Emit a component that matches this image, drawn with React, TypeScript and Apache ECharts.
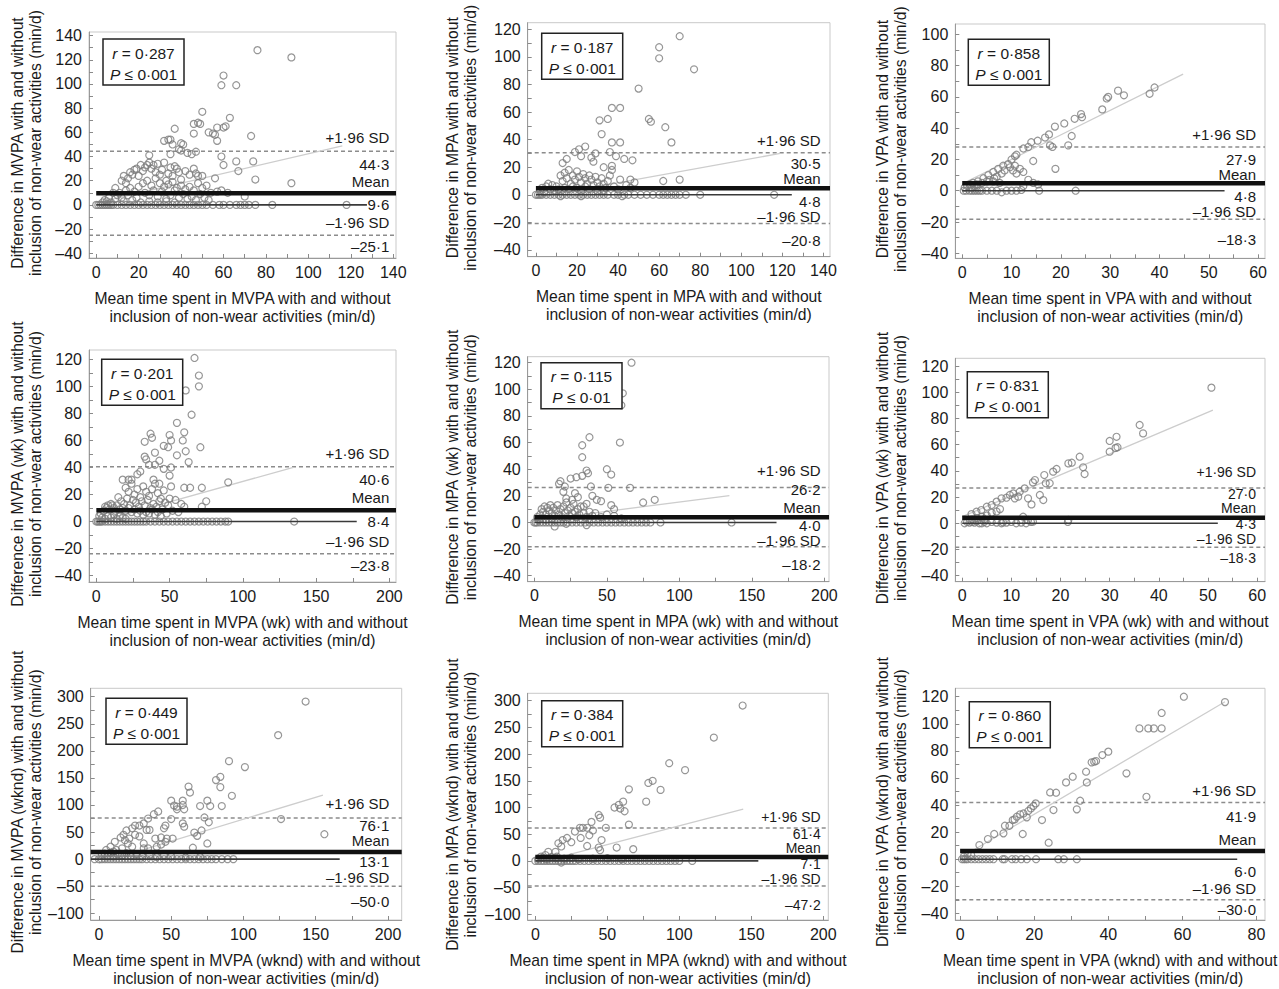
import { useEffect, useRef } from "react";
import * as echarts from "echarts";

// ---------- DATA ----------
const mvpaPoints = [
  [76,128],[92,122],[60,107],[59,99],[66,99],[50,77],[63,72],[46,67],[48,68],[49,67],[61,65],[60,64],[57,64],[37,63],[56,58],[46,59],[53,60],[55,59],[73,57],[57,53],[32,53],[34,54],[35,54],[36,50],[40,51],[41,50],[39,46],[40,45],[43,43],[45,42],[47,44],[59,40],[35,42],[25,41],[66,36],[74,36],[60,33],[67,28],[75,21],[92,18],[56,22],[50,24],
  [12,20],[13,24],[14,18],[15,22],[16,27],[17,25],[18,29],[19,30],[20,24],[21,33],[22,28],[23,31],[24,33],[25,35],[26,30],[27,33],[28,27],[29,34],[30,25],[31,29],[32,35],[33,20],[34,26],[35,31],[36,24],[37,32],[38,30],[39,27],[40,21],[42,28],[44,25],[46,30],[47,26],[48,24],
  [20,15],[22,18],[24,20],[26,16],[28,22],[30,18],[32,15],[34,17],[36,19],[38,14],[40,16],[42,13],[44,15],[46,12],[48,18],[50,14],[52,16],[54,10],[14,12],[16,14],[18,11],[10,8],[12,6],[8,10],[6,6],[4,4],[9,14],[11,10],[15,8],[19,6],[23,10],[25,8],[27,12],[29,7],[31,11],[33,5],[35,8],[37,12],[39,6],[41,9],[43,5],[45,7],[47,4],[49,9],[51,6],[53,4],[57,11],[59,12],[62,10],[70,7],[3,2],[5,3],[7,2],[9,5],[13,3],[17,4],[21,2],[25,3],[29,2],[33,3],[37,2],
  [0,0],[1,0],[2,0],[3,0],[4,0],[5,0],[6,0],[7,0],[8,0],[10,0],[12,0],[14,0],[16,0],[18,0],[20,0],[22,0],[24,0],[26,0],[28,0],[30,0],[32,0],[34,0],[36,0],[38,0],[40,0],[42,0],[44,0],[46,0],[48,0],[50,0],[52,0],[55,0],[58,0],[60,0],[63,0],[66,0],[68,0],[70,0],[72,0],[75,0],[83,0],[118,0]
];

const mpaPoints = [
  [70,115],[60,107],[60,99],[77,91],[50,77],[37,63],[41,63],[35,55],[31,54],[55,55],[56,53],[63,49],[32,44],[37,38],[41,38],[66,38],[24,35],[21,33],[19,31],[36,31],[39,28],[43,26],[47,25],[29,30],[27,27],[28,24],[22,28],[15,26],[13,23],[33,20],[37,21],[37,18],[36,14],[62,10],[70,11],[46,11],[48,9],[41,11],
  [12,14],[13,10],[14,16],[15,12],[16,18],[17,8],[18,14],[19,11],[20,17],[21,13],[22,9],[23,15],[24,12],[25,8],[26,14],[27,11],[28,7],[29,13],[30,9],[31,6],[32,12],[33,8],[34,5],[35,10],[10,6],[11,4],[14,5],[16,4],[18,6],[20,5],[22,3],[24,6],[26,4],[30,3],[33,3],[38,6],[40,4],[44,7],[46,5],[5,6],[6,8],[7,4],[8,7],[9,3],[3,5],[4,2],[2,3],[12,-1],[22,-1],[42,-1],
  [0,0],[1,0],[2,0],[3,0],[5,0],[7,0],[9,0],[11,0],[13,0],[15,0],[17,0],[19,0],[21,0],[23,0],[25,0],[27,0],[29,0],[31,0],[33,0],[35,0],[38,0],[40,0],[43,0],[45,0],[48,0],[51,0],[54,0],[57,0],[60,0],[62,0],[64,0],[66,0],[68,0],[70,0],[73,0],[80,0],[116,0]
];

const vpaPoints = [
  [39,66],[38,62],[31.6,64],[32.8,61],[29.6,60],[29.3,59],[28.4,52],[24.3,47],[24.1,49],[22.8,46],[20.7,43],[18.8,41],[22.2,35],[21.5,29],[17.6,36],[16.8,34],[15.3,32],[14,31],[13.4,28],[12.4,27],[17.8,29],[18.3,28],[14.4,19],[18.9,14],[11,23],[10.7,22],[10,20],[9.3,17],[8.3,16],[7.3,14],[6.3,12],[5.3,10],[4.3,8],[3.2,6],[2.2,5],[9.7,15],[10.3,13],[11,11],[12.4,12],[11.7,14],[10.7,16],[8.6,13],[8,11],[13.4,7],[14.4,5],[15.4,4],[12.4,3],[7.6,5],[6.3,6],[1,3],[1.5,4],[2,2],[2.5,3],[3,4],[4,5],[5,6],[5.5,7],[6.5,8],[7,9],[0.5,2],
  [0.3,0],[0.8,0],[1.5,0],[2,0],[2.5,0],[3,0],[3.5,0],[4,0],[5,0],[6,0],[7,0],[8,-1],[9,0],[10,0],[11,0],[12,0.5],[15.6,0],[23,0]
];

const mvpaWkPoints = [
  [67,121],[70,108],[70,100],[61,97],[65,79],[55,73],[60,66],[50,64],[51,60],[37,65],[38,62],[33,59],[59,60],[71,55],[46,56],[49,55],[40,51],[61,52],[55,49],[33,48],[34,46],[43,45],[63,44],[36,42],[40,42],[51,40],[46,39],[24,31],[18,31],[22,31],[28,35],[30,37],[39,31],[43,28],[50,34],[51,26],[60,25],[64,25],[72,25],[90,29],[75,15],[72,11],[50,17],[54,16],[58,13],
  [20,25],[22,22],[24,28],[26,20],[28,24],[30,18],[32,26],[34,22],[36,19],[38,24],[40,28],[42,21],[44,17],[46,23],[15,18],[17,15],[19,13],[21,17],[23,12],[25,16],[27,14],[29,11],[31,15],[33,12],[35,16],[37,10],[39,13],[41,11],[43,15],[45,9],[47,14],[49,12],[5,8],[6,11],[7,10],[8,12],[9,9],[10,13],[11,12],[12,10],[13,8],[14,12],[16,9],[18,10],[20,8],[22,10],[24,7],[26,9],[28,6],[30,8],[32,5],[34,7],[36,6],[38,9],[40,5],[42,7],[44,4],[48,6],[52,8],[56,7],[60,11],[2,4],[3,6],[4,3],[6,2],[8,4],[10,3],[12,5],[14,2],[16,4],[18,3],[20,2],
  [0,0],[1,0],[2,0],[3,0],[4,0],[6,0],[8,0],[10,0],[12,0],[14,0],[16,0],[18,0],[20,0],[22,0],[24,0],[26,0],[28,0],[30,0],[32,0],[34,0],[37,0],[40,0],[43,0],[46,0],[49,0],[52,0],[55,0],[58,0],[61,0],[64,0],[67,0],[70,0],[73,0],[76,0],[79,0],[82,0],[85,0],[88,0],[90,0],[135,0]
];

const mpaWkPoints = [
  [67,120],[61,97],[60,88],[59,60],[38,64],[33,58],[33,49],[50,40],[53,36],[36,39],[37,37],[33,35],[29,34],[25,33],[18,31],[17,29],[21,27],[39,27],[51,26],[66,26],[75,15],[83,17],[40,20],[43,17],[46,16],[53,13],[55,10],[28,22],[30,19],[26,17],[22,18],[20,23],[34,12],[36,14],
  [5,10],[6,8],[7,12],[8,6],[9,11],[10,9],[11,13],[12,7],[13,11],[14,5],[15,9],[16,13],[17,6],[18,10],[19,4],[20,12],[21,7],[22,15],[23,9],[24,5],[25,11],[26,7],[27,14],[28,8],[29,4],[30,10],[31,6],[32,12],[34,7],[36,4],[38,8],[40,5],[42,7],[46,4],[50,6],[55,5],[60,3],[2,4],[3,2],[4,6],[8,2],[12,3],[14,-3],[36,-2],[22,-1],
  [0,0],[1,0],[2,0],[4,0],[6,0],[8,0],[10,0],[12,0],[14,0],[16,0],[18,0],[20,0],[23,0],[26,0],[29,0],[32,0],[35,0],[38,0],[41,0],[44,0],[47,0],[50,0],[53,0],[56,0],[59,0],[62,0],[65,0],[68,0],[71,0],[74,0],[77,0],[80,0],[87,0],[136,0]
];

const vpaWkPoints = [
  [50.7,103.5],[36.1,75],[36.8,68.6],[31.4,66],[30,62.8],[30,54.6],[31.6,58],[31.2,57.5],[23.9,50.8],[21.6,45.7],[22.3,46.2],[24.6,42.7],[24.9,37.6],[19.2,41.4],[18.5,39.4],[16.7,36.8],[14.8,33],[14.4,31.2],[12.7,26.6],[13.4,19],[14.1,14.4],[15.8,21.6],[16.5,17.7],[17.8,30.5],[17,30.5],[11.7,24.1],[10.4,22.8],[9.7,21.6],[9,19.5],[8,19],[7,16.5],[6,13.9],[5,12.6],[3.9,10.1],[2.9,8.8],[1.9,7],[11.4,20.3],[10.7,19],[7.7,10.8],[12.4,5],[13.4,2.5],[14.4,1.2],[21.6,2.5],[8.3,0.7],
  [0.5,0],[1,1],[1.5,0.5],[2,1],[2.5,0.5],[3,1.5],[3.5,0],[4,0],[4.5,1],[5,0],[6,1],[7,0.5],[8,0],[9,0.5],[10,1],[11,0],[12,0.5],[13,0],[14,1],[21.5,1],[2,3],[3,4],[4,5],[5,6],[6,8],[7,9],[4.5,3]
];

const mvpaWkndPoints = [
  [143,291],[124,229],[90,181],[101,170],[81,146],[84,152],[84,133],[62,134],[63,123],[92,117],[50,108],[52,99],[54,97],[58,108],[58,100],[54,92],[59,92],[75,108],[70,98],[77,98],[85,98],[73,77],[76,68],[71,53],[68,43],[66,49],[75,29],[65,21],[58,66],[59,60],[126,74],[156,46],[50,74],[46,62],[45,57],[41,88],[38,83],[34,75],[31,66],[28,62],[25,62],[23,57],[19,53],[17,45],[15,40],[11,32],[8,23],[5,17],[33,54],[35,54],[39,38],[43,40],[47,38],[51,38],[46,32],[43,27],[40,23],[31,29],[28,42],[25,45],[21,38],[20,29],[18,35],[23,23],[31,20],[16,20],[12,17],[10,14],[34,20],
  [2,8],[4,10],[6,6],[8,12],[10,5],[13,9],[16,7],[19,11],[22,6],[26,9],[30,5],[35,8],[40,4],[45,7],[50,5],[60,3],[70,4],
  [-3,0],[0,0],[2,0],[4,0],[6,0],[8,0],[10,0],[12,0],[14,0],[16,0],[18,0],[20,0],[22,0],[24,0],[26,0],[28,0],[30,0],[33,0],[36,0],[39,0],[42,0],[45,0],[48,0],[51,0],[54,0],[57,0],[60,0],[63,0],[66,0],[69,0],[72,0],[75,0],[78,0],[81,0],[85,0],[89,0],[93,0]
];

const mpaWkndPoints = [
  [144,291],[124,231],[93,183],[104,170],[81.5,150],[78.5,146],[87,133],[65,134],[77,111],[61,111],[58,105],[55,100],[59,98],[62,93],[44,86],[45,81],[39,73],[65,68],[49,62],[31,62],[33,62],[36,62],[27.5,55],[31.5,43],[37.5,48],[40,57],[46,39],[22,43],[19,39],[25,35],[16,33],[18,27],[36,28],[44,25],[45,20],[56.5,25],[68,22],[14,17],[9,17],[7,11],[15,8],[18,-3],[4,8],
  [2,4],[5,6],[8,3],[11,7],[14,5],[20,4],[25,6],[30,3],[40,4],[50,5],[60,3],
  [0,0],[2,0],[4,0],[6,0],[8,0],[10,0],[12,0],[14,0],[16,0],[18,0],[20,0],[22,0],[24,0],[26,0],[28,0],[31,0],[34,0],[37,0],[40,0],[43,0],[46,0],[49,0],[52,0],[55,0],[58,0],[61,0],[64,0],[67,0],[70,0],[73,0],[76,0],[79,0],[82,0],[85,0],[88,0],[91,0],[94,0],[97,0],[100,0],[109,0]
];

const vpaWkndPoints = [
  [60.4,120],[71.5,116],[54.4,108],[48.4,96.6],[50.8,96.6],[52.3,96.6],[54.4,96.6],[40,79.4],[38.4,76.9],[36.7,72.5],[35.5,71.5],[36.2,72],[34,64.6],[44.9,63.4],[34.2,56.7],[30.4,60.9],[28.6,56.7],[24.3,49.3],[25.9,49.1],[50.3,46.1],[32.4,43.2],[31.5,36.8],[25.2,36.3],[20.4,41.2],[19.8,39.3],[19.1,37.5],[18.4,35.6],[18,30.9],[17.1,33.8],[16.2,33.1],[15.3,31.4],[14.7,29.4],[14.2,28.9],[13.3,24.7],[12.1,24.7],[11.7,19.1],[9.2,18.6],[7.5,14.9],[5.2,10.4],[16.9,18.6],[22.1,28.9],[23.9,12.2],
  [0.5,0],[1,0],[1.5,0],[2,0],[3,0],[4,0],[5,0],[6,0],[7,0],[8,0],[9,0],[11.5,0],[12,0],[14,0],[15,0],[16.5,0],[18,0],[20.5,0],[26.5,0],[28,0],[31.5,0],[1,2],[2,4],[3,3]
];

const panelPoints = [mvpaPoints, mpaPoints, vpaPoints, mvpaWkPoints, mpaWkPoints, vpaWkPoints, mvpaWkndPoints, mpaWkndPoints, vpaWkndPoints];

const meanDiff = [9.6, 4.8, 4.8, 8.4, 4.0, 4.3, 13.1, 7.1, 6.0];
const upperLoA = [44.3, 30.5, 27.9, 40.6, 26.2, 27.0, 76.1, 61.4, 41.9];
const lowerLoA = [-25.1, -20.8, -18.3, -23.8, -18.2, -18.3, -50.0, -47.2, -30.0];
const rValues = ["0·287", "0·187", "0·858", "0·201", "0·115", "0·831", "0·449", "0·384", "0·860"];
const pValues = ["0·001", "0·001", "0·001", "0·001", "0·01", "0·001", "0·001", "0·001", "0·001"];

// solid zero-difference line: [start x, end x]
const zeroLineX = [[0,127.6],[0,124.6],[0,53.2],[0,177.7],[0,167],[0,52],[-5.5,166.6],[0,154.9],[0,74.8]];
const meanLineStart = [0, 0, 0, 0, 0, 0, -5.7, 0, 0];
// regression line end points
const regLines = [
  [[0,1.6],[116,48.8]],
  [[0,-2.1],[119,30]],
  [[0,4.4],[44.8,74.6]],
  [[0,-0.6],[134.5,40.1]],
  [[0,1.4],[134.5,20.1]],
  [[0,5],[51,86.4]],
  [[0,-7.2],[155,118.4]],
  [[0,-4.8],[144.4,97.1]],
  [[0,0.9],[71.5,116.3]]
];

const xTicks140 = [0, 20, 40, 60, 80, 100, 120, 140];
const xTicks60 = [0, 10, 20, 30, 40, 50, 60];
const xTicks200 = [0, 50, 100, 150, 200];
const xTicks80 = [0, 20, 40, 60, 80];
const yTicks140 = [-40, -20, 0, 20, 40, 60, 80, 100, 120, 140];
const yTicks120 = [-40, -20, 0, 20, 40, 60, 80, 100, 120];
const yTicks100 = [-40, -20, 0, 20, 40, 60, 80, 100];
const yTicks300 = [-100, -50, 0, 50, 100, 150, 200, 250, 300];
const panelXTicks = [xTicks140, xTicks140, xTicks60, xTicks200, xTicks200, xTicks60, xTicks200, xTicks200, xTicks80];
const panelYTicks = [yTicks140, yTicks120, yTicks100, yTicks120, yTicks120, yTicks120, yTicks300, yTicks300, yTicks120];

const activities = ["MVPA", "MPA", "VPA", "MVPA (wk)", "MPA (wk)", "VPA (wk)", "MVPA (wknd)", "MPA (wknd)", "VPA (wknd)"];

// ---------- LAYOUT ----------
const LAYOUT = [
  { L: 89, T: 32, R: 396, B: 258, x: [-3.4, 141.3], y: [-43.9, 143], box: [103, 39], lx: 389.3, lf: 15, ly: [137.3, 164.3, 181, 204, 222.7, 246.7], tx: 26 },
  { L: 527.7, T: 22.7, R: 830, B: 256.7, x: [-4, 143.2], y: [-44.9, 124.8], box: [541.7, 33.3], lx: 820.7, lf: 15, ly: [140, 163.3, 178.3, 201.3, 216.7, 240.7], tx: 461 },
  { L: 955.3, T: 24, R: 1265, B: 258.3, x: [-1.4, 61.4], y: [-43.2, 106.6], box: [968.3, 39.3], lx: 1256, lf: 15, ly: [134, 159, 174, 196, 211.2, 239], tx: 891 },
  { L: 89, T: 350, R: 396, B: 582, x: [-5, 204.5], y: [-44.7, 126.9], box: [101.7, 359.3], lx: 389.3, lf: 15, ly: [453.3, 479, 497.7, 521, 541, 565], tx: 26 },
  { L: 527.7, T: 356.7, R: 829, B: 581.7, x: [-4.6, 203.2], y: [-44.5, 124.5], box: [541, 362.7], lx: 820.7, lf: 15, ly: [470.7, 489, 507.7, 525.2, 540.4, 564.3], tx: 461 },
  { L: 955.3, T: 358.3, R: 1265, B: 581.7, x: [-1.4, 61.6], y: [-44.6, 125.9], box: [967.3, 371.7], lx: 1256, lf: 14, ly: [471.7, 494, 508.4, 524, 538.6, 558.3], tx: 891 },
  { L: 90.7, T: 688.3, R: 401.7, B: 920, x: [-5.7, 209.5], y: [-112.4, 315.5], box: [106, 698.3], lx: 389.3, lf: 15, ly: [803.3, 825.7, 840.7, 861, 877.7, 901], tx: 26 },
  { L: 527.7, T: 693.3, R: 828.3, B: 920, x: [-5.3, 203.5], y: [-110.7, 313.9], box: [541.7, 700.7], lx: 820.7, lf: 14, ly: [816.7, 834, 848.4, 864, 878.6, 905], tx: 461 },
  { L: 955.3, T: 688.3, R: 1265, B: 920, x: [-1.3, 82.3], y: [-44.9, 126.2], box: [969.3, 701.7], lx: 1256, lf: 15, ly: [790.7, 816.7, 839, 871.7, 888.3, 909], tx: 891 }
];

const FONT = "'Liberation Sans', Arial, Helvetica, sans-serif";
const TXT = "#1a1a1a";

function fmt(v: number) {
  const s = Math.abs(v).toFixed(1).replace(".", "·");
  return v < 0 ? "–" + s : s;
}
function tickFmt(v: number) {
  return v < 0 ? "–" + Math.abs(v) : String(v);
}
function withMinor(t: number[]) {
  const out: number[] = [];
  for (let i = 0; i < t.length; i++) {
    out.push(t[i]);
    if (i < t.length - 1) out.push((t[i] + t[i + 1]) / 2);
  }
  return out;
}

function buildOption() {
  const grid: any[] = [];
  const xAxis: any[] = [];
  const yAxis: any[] = [];
  const series: any[] = [];
  const graphic: any[] = [];

  LAYOUT.forEach((p, i) => {
    grid.push({
      left: p.L, top: p.T, width: p.R - p.L, height: p.B - p.T,
      show: true, borderColor: "#c9c9c9", borderWidth: 1, backgroundColor: "transparent"
    });
    const axisCommon = {
      gridIndex: i,
      type: "value",
      splitLine: { show: false },
      axisLine: { show: true, onZero: false, lineStyle: { color: "#9a9a9a", width: 1 } },
    };
    xAxis.push({
      ...axisCommon,
      min: p.x[0], max: p.x[1],
      axisTick: { show: true, inside: true, length: 4, customValues: withMinor(panelXTicks[i]), lineStyle: { color: "#8a8a8a" } },
      axisLabel: { customValues: panelXTicks[i], formatter: tickFmt, fontSize: 16, color: TXT, fontFamily: FONT, margin: 6 },
    });
    yAxis.push({
      ...axisCommon,
      min: p.y[0], max: p.y[1],
      axisTick: { show: true, inside: true, length: 4, customValues: withMinor(panelYTicks[i]), lineStyle: { color: "#8a8a8a" } },
      axisLabel: { customValues: panelYTicks[i], formatter: tickFmt, fontSize: 16, color: TXT, fontFamily: FONT, margin: 7 },
    });

    const ax = { xAxisIndex: i, yAxisIndex: i, silent: true, animation: false };
    series.push({
      ...ax, type: "line", symbol: "none", z: 1,
      data: [[p.x[0], upperLoA[i]], [p.x[1], upperLoA[i]]],
      lineStyle: { color: "#8c8c8c", width: 1.5, type: [4, 3] },
    });
    series.push({
      ...ax, type: "line", symbol: "none", z: 1,
      data: [[p.x[0], lowerLoA[i]], [p.x[1], lowerLoA[i]]],
      lineStyle: { color: "#8c8c8c", width: 1.5, type: [4, 3] },
    });
    series.push({
      ...ax, type: "line", symbol: "none", z: 1,
      data: regLines[i],
      lineStyle: { color: "#cdcdcd", width: 1.3 },
    });
    series.push({
      ...ax, type: "scatter", z: 2,
      symbol: "circle", symbolSize: 7,
      data: panelPoints[i],
      itemStyle: { color: "rgba(255,255,255,0)", borderColor: "#7c7c7c", borderWidth: 1.2 },
    });
    series.push({
      ...ax, type: "line", symbol: "none", z: 3,
      data: [[zeroLineX[i][0], 0], [zeroLineX[i][1], 0]],
      lineStyle: { color: "#3a3a3a", width: 1.6 },
    });
    series.push({
      ...ax, type: "line", symbol: "none", z: 3,
      data: [[meanLineStart[i], meanDiff[i]], [p.x[1], meanDiff[i]]],
      lineStyle: { color: "#111", width: 4.5 },
    });

    // axis titles
    graphic.push({
      type: "text", x: p.tx, y: (p.T + p.B) / 2 - 2, rotation: Math.PI / 2,
      style: {
        text: `Difference in ${activities[i]} with and without\ninclusion of non-wear activities (min/d)`,
        align: "center", verticalAlign: "middle", fontSize: 15.7, lineHeight: 18, fill: TXT, fontFamily: FONT,
      },
    });
    graphic.push({
      type: "text", x: (p.L + p.R) / 2, y: p.B + 49,
      style: {
        text: `Mean time spent in ${activities[i]} with and without\ninclusion of non-wear activities (min/d)`,
        align: "center", verticalAlign: "middle", fontSize: 15.7, lineHeight: 18, fill: TXT, fontFamily: FONT,
      },
    });
    // stats box
    graphic.push({
      type: "rect", z: 50,
      shape: { x: p.box[0], y: p.box[1], width: 81, height: 46 },
      style: { fill: "#fff", stroke: "#222", lineWidth: 1.5 },
    });
    graphic.push({
      type: "text", z: 51, x: p.box[0] + 40.5, y: p.box[1] + 14,
      style: {
        text: `{i|r} = ${rValues[i]}`, rich: { i: { fontStyle: "italic", fontSize: 15.5, fontFamily: FONT, fill: TXT } },
        align: "center", verticalAlign: "middle", fontSize: 15.5, fill: TXT, fontFamily: FONT,
      },
    });
    graphic.push({
      type: "text", z: 51, x: p.box[0] + 40.5, y: p.box[1] + 35,
      style: {
        text: `{i|P} ≤ ${pValues[i]}`, rich: { i: { fontStyle: "italic", fontSize: 15.5, fontFamily: FONT, fill: TXT } },
        align: "center", verticalAlign: "middle", fontSize: 15.5, fill: TXT, fontFamily: FONT,
      },
    });
    // right labels
    const texts = ["+1·96 SD", fmt(upperLoA[i]), "Mean", fmt(meanDiff[i]), "–1·96 SD", fmt(lowerLoA[i])];
    texts.forEach((t, k) => {
      graphic.push({
        type: "text", z: 40, x: p.lx, y: p.ly[k],
        style: { text: t, align: "right", verticalAlign: "middle", fontSize: p.lf, fill: TXT, fontFamily: FONT },
      });
    });
  });

  return { animation: false, backgroundColor: "#fff", grid, xAxis, yAxis, series, graphic };
}

export default function App() {
  const ref = useRef<HTMLDivElement>(null);
  useEffect(() => {
    if (!ref.current) return;
    const chart = echarts.init(ref.current, undefined, { renderer: "svg" });
    chart.setOption(buildOption() as any);
    return () => chart.dispose();
  }, []);
  return (
    <div
      ref={ref}
      style={{ position: "fixed", left: 0, top: 0, width: 1279, height: 989, background: "#fff" }}
    />
  );
}
